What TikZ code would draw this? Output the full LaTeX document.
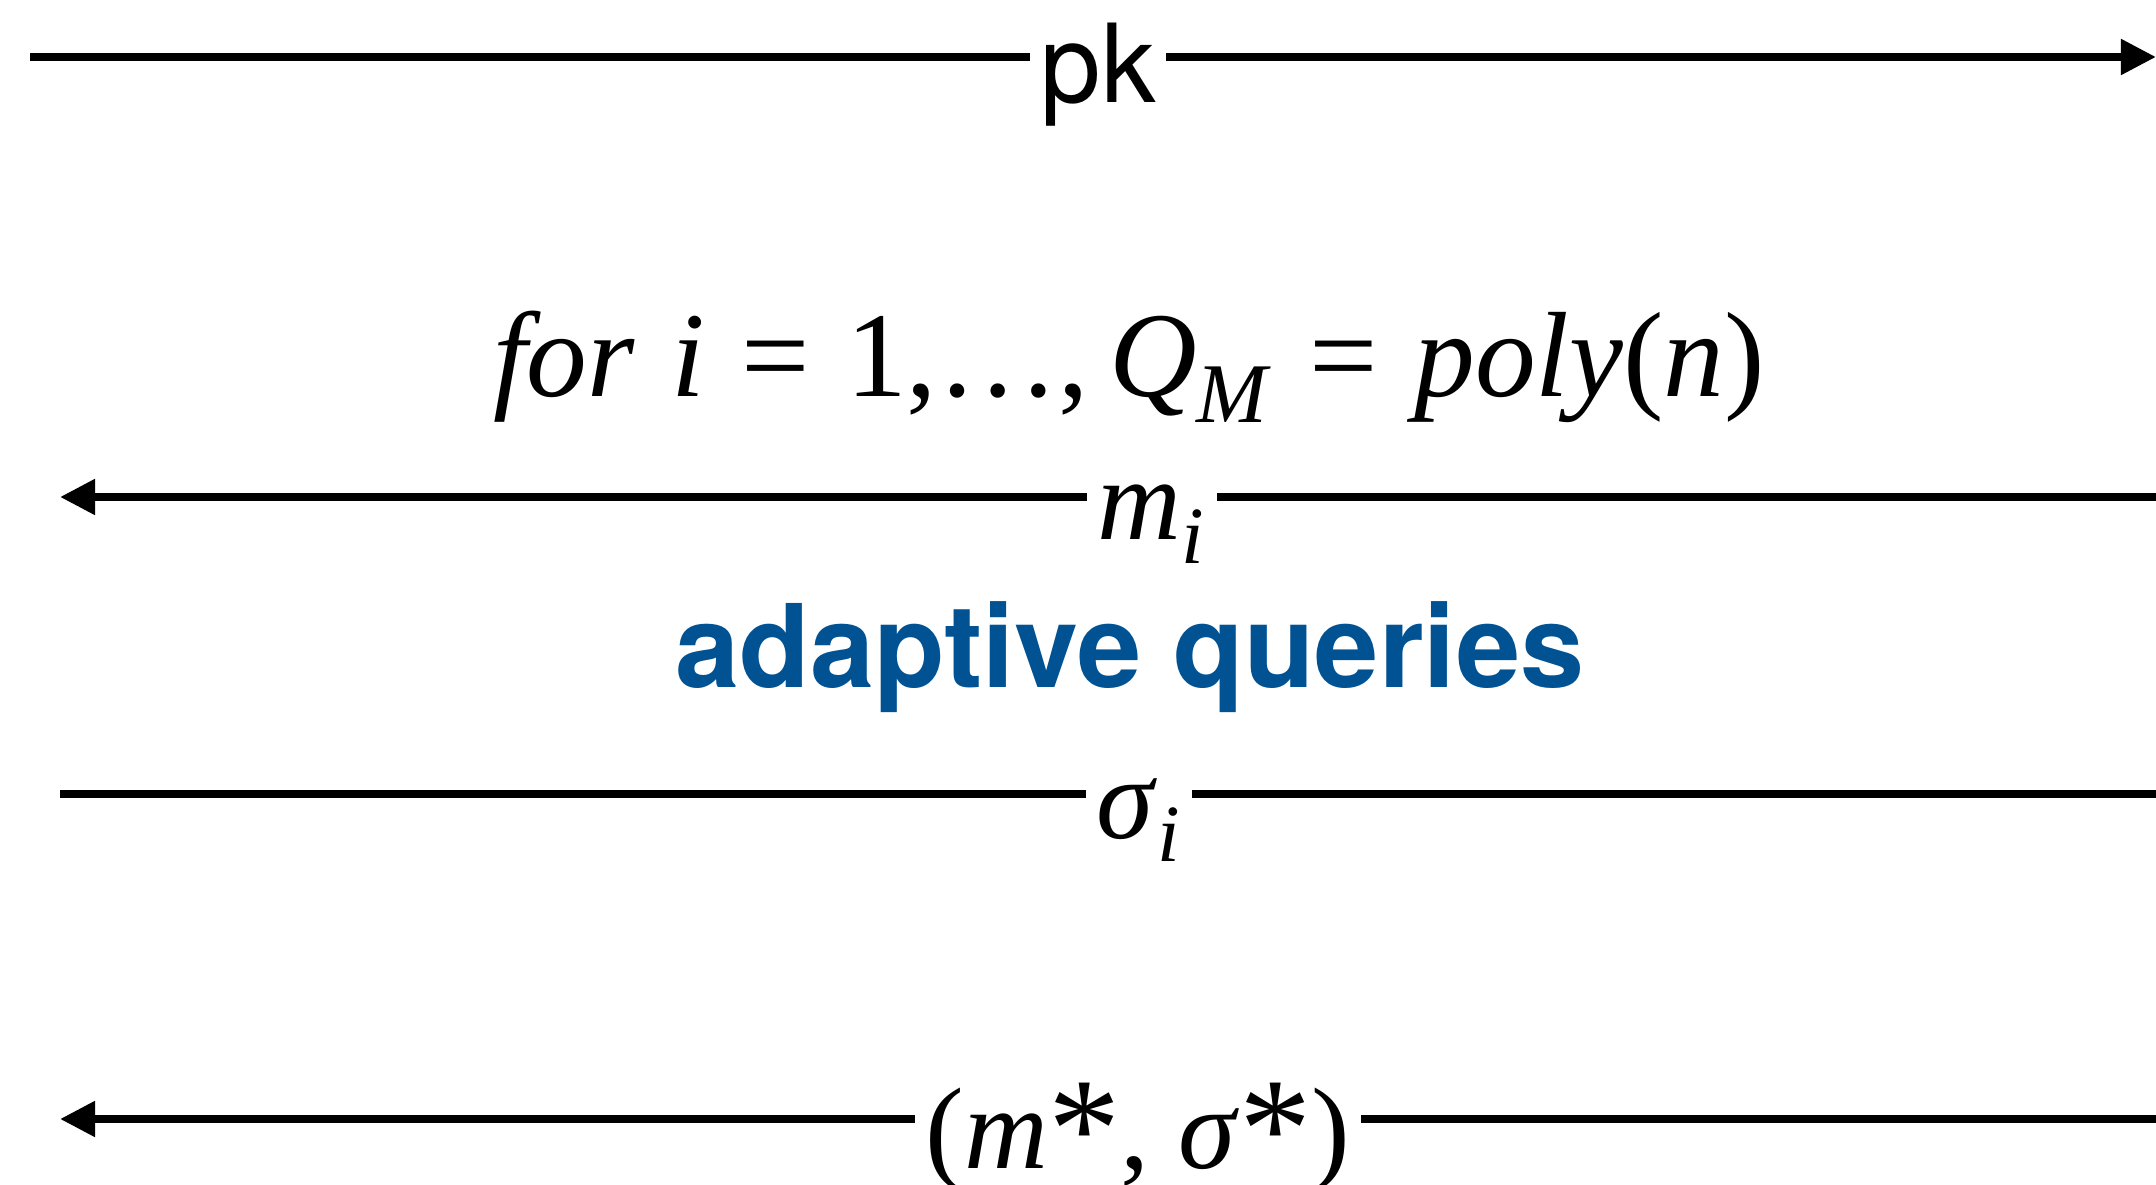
\documentclass[tikz,border=0pt]{standalone}
\usepackage{fontspec}
\setmainfont{Liberation Serif}
\setsansfont{TeX Gyre Heros}
\usepackage{tikz}
\usetikzlibrary{arrows.meta}
\definecolor{queryblue}{RGB}{0,82,147}
\newcommand{\sub}[1]{\textsubscript{\textit{#1}}}
\newcommand{\starred}{\raisebox{-0.08em}{\fontsize{41}{41}\selectfont *}}
\newcommand{\eqsign}{\hspace{0.3em}=\hspace{0.3em}}

\begin{document}
\begin{tikzpicture}[x=0.01cm, y=-0.01cm, >={Triangle[length=3.5mm,width=3.4mm]}, %Pfeilspitzen
		msg/.style={line width=0.08cm},
		lbl/.style={fill=white, anchor=base, inner xsep=3pt, inner ysep=2pt},
		bigmath/.style={font=\fontsize{33}{38}\selectfont}]
		\useasboundingbox (0,0) rectangle (2156,1185);
		% Endpunkte der Nachrichten
		\coordinate (pkL) at (30,57);    \coordinate (pkR) at (2156,57);
		\coordinate (mL) at (60,497);    \coordinate (mR) at (2156,497);
		\coordinate (sL) at (60,794);    \coordinate (sR) at (2156,794);
		\coordinate (fL) at (60,1119);   \coordinate (fR) at (2156,1119);
		\draw[msg,->] (pkL) -- (pkR);
		\draw[msg,<-] (mL) -- (mR);
		\draw[msg] (sL) -- (sR);
		\draw[msg,<-] (fL) -- (fR);
		% Beschriftungen
		\node[anchor=base, font=\fontsize{34.5}{40}\selectfont] (loop) at (1129,397) {\textit{for}\hspace{0.3em}\textit{i}\eqsign 1,\ldots,\,\textit{Q}\sub{M}\eqsign\textit{poly}(\textit{n})};
		\node[lbl, font=\sffamily\fontsize{31}{36}\selectfont] (pk) at (1098,103) {pk};
		\node[lbl, bigmath] (msgi) at (1152,540) {\textit{m}\sub{i}};
		\node[anchor=base, text=queryblue, font=\sffamily\bfseries\fontsize{32.8}{36}\selectfont] (adapt) at (1130,688) {adaptive queries};
		\node[lbl, bigmath] (sigi) at (1139,838) {\textit{σ}\sub{i}};
		\node[lbl, bigmath] (forge) at (1138,1168) {(\textit{m}\starred,\hspace{0.25em}\textit{σ}\starred)};
\end{tikzpicture}
\end{document}
